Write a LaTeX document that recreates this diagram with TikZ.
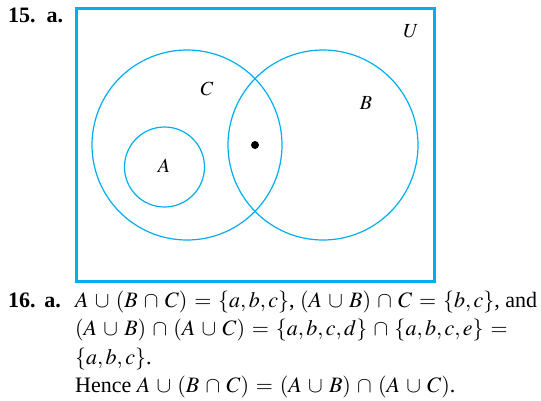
\documentclass[tikz,border=0pt]{standalone}
\usepackage{mathptmx}
\usepackage{fontspec}
\setmainfont{Liberation Serif}
\usetikzlibrary{positioning}
\definecolor{vennblue}{RGB}{0,174,239}
\medmuskip=5.1mu plus 2mu minus 4mu
\thickmuskip=5.6mu plus 5mu

\begin{document}
\begin{tikzpicture}[
    x=1pt, y=-1pt,
    font=\fontsize{22}{28}\selectfont,
    venn/.style={circle, draw=vennblue, line width=1.2pt,
                minimum size=#1, inner sep=0pt},
    setLbl/.style={font=\fontsize{20}{24}\selectfont},
    txtLine/.style={anchor=base west, inner sep=0pt},
    numLbl/.style={anchor=base west, inner sep=0pt, font=\fontsize{22}{28}\selectfont\bfseries}
  ]
  \useasboundingbox (0,0) rectangle (541,400);

  %% ---- Problem 15: Venn diagram ----
  \node[numLbl] (lbl15) at (8,22) {15.\hspace{0.5em}a.};
  \node[draw=vennblue, line width=3pt, minimum width=358pt, minimum height=273pt,
        inner sep=0pt] (univ) at (255.5,145) {};

  \node[venn=190pt] (setC) at (187,145) {};
  \node[venn=190pt] (setB) at (323,145) {};
  \node[venn=80pt]  (setA) at (164.5,167) {};
  \node[circle, fill=black, inner sep=0pt, minimum size=8pt] (pt) at (255,145) {};

  \node[setLbl] (lblU) at (411,31)    {$U$};
  \node[setLbl] (lblC) at (207,89)    {$C$};
  \node[setLbl] (lblB) at (366,103.5) {$B$};
  \node[setLbl] (lblA) at (164,166)   {$A$};

  %% ---- Problem 16: answer text ----
  \node[numLbl] (lbl16) at (8,307) {16.\hspace{0.4em}a.};
  \node[txtLine] (ln1) at (75,307)
    {$A \cup (B \cap C) = \{a, b, c\}$, $(A \cup B) \cap C = \{b, c\}$, and};
  \node[txtLine] (ln2) at (75,335.5)
    {$(A \cup B) \cap (A \cup C) = \{a, b, c, d\} \cap \{a, b, c, e\} =$};
  \node[txtLine] (ln3) at (75,364) {$\{a, b, c\}$.};
  \node[txtLine] (ln4) at (75,392.5)
    {Hence $A \cup (B \cap C) = (A \cup B) \cap (A \cup C)$.};

\end{tikzpicture}
\end{document}
